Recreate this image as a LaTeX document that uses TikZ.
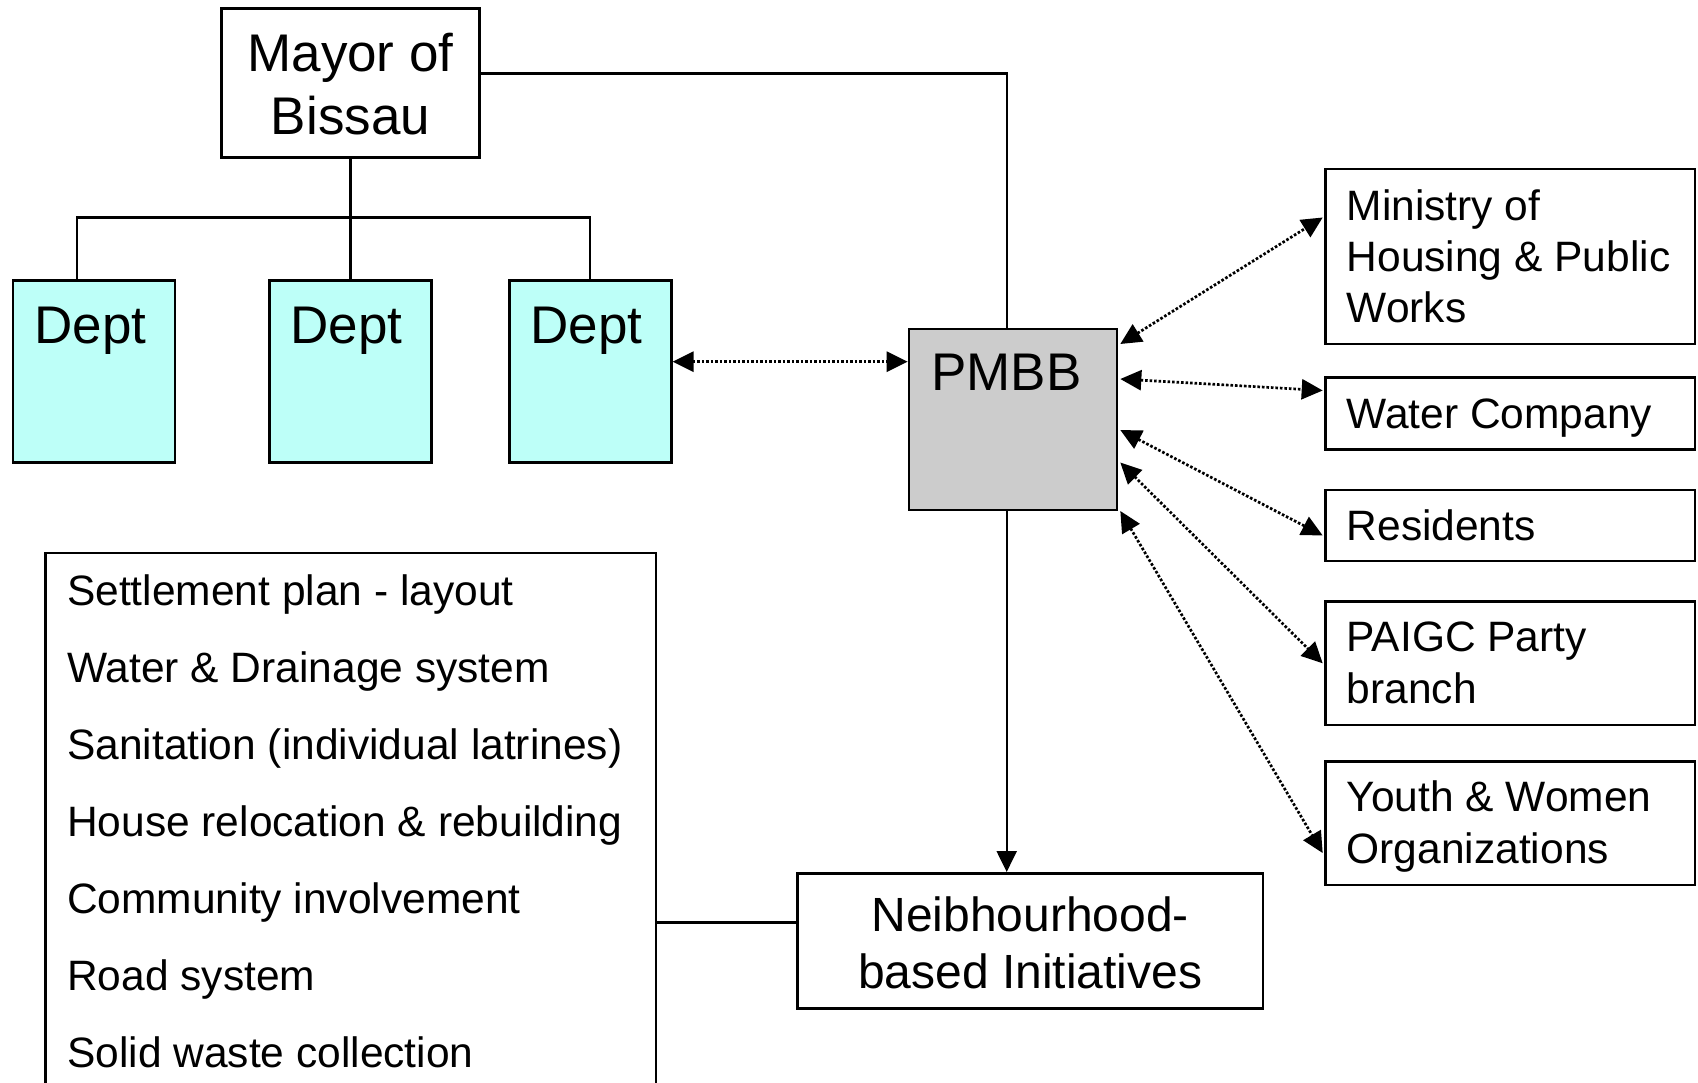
\documentclass[tikz,border=0pt]{standalone}
\usepackage{fontspec}
\setmainfont{Liberation Sans}
\usetikzlibrary{arrows.meta,calc}
\definecolor{deptcyan}{RGB}{189,255,248}
\definecolor{pmbbgray}{RGB}{204,204,204}

\begin{document}
\begin{tikzpicture}[x=1pt,y=-1pt,
  box/.style={draw=black, line width=2.6pt, inner sep=0pt, rectangle},
  link/.style={draw=black, line width=2.3pt},
  dotlink/.style={draw=black, line width=2.7pt, dash pattern=on 2.6pt off 1.9pt,
                  {Triangle[length=21pt,width=20pt]}-{Triangle[length=21pt,width=20pt]}},
  bigtxt/.style={font=\fontsize{53}{63}\selectfont, inner sep=0pt},
  midtxt/.style={font=\fontsize{42.5}{51}\selectfont, inner sep=0pt, anchor=base west},
  ngtxt/.style={font=\fontsize{48}{57}\selectfont, inner sep=0pt, anchor=base},
]
\clip (0,0) rectangle (1698,1083);
\fill[white] (0,0) rectangle (1698,1083);

% ---- boxes ----
\node[box, minimum width=258.5pt, minimum height=149pt] (mayor) at (350.5,83) {};
\node[box, fill=deptcyan, minimum width=162pt, minimum height=182pt] (dept1) at (94,371.6) {};
\node[box, fill=deptcyan, minimum width=162pt, minimum height=182pt] (dept2) at (350.5,371.6) {};
\node[box, fill=deptcyan, minimum width=162pt, minimum height=182pt] (dept3) at (590.25,371.6) {};
\node[box, fill=pmbbgray, minimum width=208pt, minimum height=181pt] (pmbb) at (1013,419.5) {};

\node[box, minimum width=369.5pt, minimum height=175pt] (min) at (1510.25,256.5) {};
\node[box, minimum width=369.5pt, minimum height=72pt] (water) at (1510.25,413.3) {};
\node[box, minimum width=369.5pt, minimum height=71pt] (res) at (1510.25,525.5) {};
\node[box, minimum width=369.5pt, minimum height=123.3pt] (paigc) at (1510.25,663.35) {};
\node[box, minimum width=369.5pt, minimum height=123.3pt] (youth) at (1510.25,823.35) {};

\node[box, minimum width=465.7pt, minimum height=135.2pt] (ngh) at (1030.15,940.9) {};
\node[box, minimum width=610.5pt, minimum height=547pt] (list) at (350.75,826.5) {};

% ---- texts ----
\node[bigtxt, anchor=base] (mayorA) at (350.5,71.7) {Mayor of};
\node[bigtxt, anchor=base] (mayorB) at (350.5,135) {Bissau};
\node[bigtxt, anchor=base west] (d1t) at (34.5,343.5) {Dept};
\node[bigtxt, anchor=base west] (d2t) at (290.5,343.5) {Dept};
\node[bigtxt, anchor=base west] (d3t) at (530.5,343.5) {Dept};
\node[bigtxt, anchor=base west] (pmbbt) at (931,391) {PMBB};

\node[midtxt] (minA) at (1346.5,221) {Ministry of};
\node[midtxt] (minB) at (1346.5,272) {Housing \& Public};
\node[midtxt] (minC) at (1346.5,322.5) {Works};
\node[midtxt] (watert) at (1346.5,428) {Water Company};
\node[midtxt] (rest) at (1346.5,540) {Residents};
\node[midtxt] (paigcA) at (1346.5,651.7) {PAIGC Party};
\node[midtxt] (paigcB) at (1346.5,703) {branch};
\node[midtxt] (youthA) at (1346.5,811.7) {Youth \& Women};
\node[midtxt] (youthB) at (1346.5,863) {Organizations};

\node[ngtxt] (nghA) at (1030.15,931.7) {Neibhourhood-};
\node[ngtxt] (nghB) at (1030.15,988.3) {based Initiatives};

\node[midtxt] (l1) at (67,605) {Settlement plan - layout};
\node[midtxt] (l2) at (67,682) {Water \& Drainage system};
\node[midtxt] (l3) at (67,759) {Sanitation (individual latrines)};
\node[midtxt] (l4) at (67,836) {House relocation \& rebuilding};
\node[midtxt] (l5) at (67,913) {Community involvement};
\node[midtxt] (l6) at (67,990) {Road system};
\node[midtxt] (l7) at (67,1067) {Solid waste collection};

% ---- hierarchy lines ----
\coordinate (jn) at (350.5,217.5);
\draw[link] (mayor.south) -- (dept2.north);
\draw[link] ([xshift=65pt]dept1.north west) |- (jn) -| (dept3.north);

\coordinate (pmT) at ([xshift=-6.3pt]pmbb.north);
\coordinate (pmB) at ([xshift=-6.3pt]pmbb.south);
\draw[link] ([yshift=9.5pt]mayor.east) -| (pmT);
\draw[link, -{Triangle[length=21pt,width=20pt]}] (pmB) -- (pmB |- ngh.north);

\coordinate (lnk) at ([yshift=18.3pt]ngh.west);
\draw[link] (lnk -| list.east) -- (lnk);

% ---- dotted two-way links ----
\coordinate (d3) at ([yshift=9.9pt]dept3.east);
\draw[dotlink] (d3) -- (d3 -| pmbb.west);
\draw[dotlink] ([xshift=2pt,yshift=75.5pt]pmbb.east) -- ([xshift=-1.5pt,yshift=39pt]min.west);
\draw[dotlink] ([xshift=2pt,yshift=40.5pt]pmbb.east) -- ([xshift=-1.5pt,yshift=22.8pt]water.west);
\draw[dotlink] ([xshift=2pt,yshift=-10.5pt]pmbb.east) -- ([xshift=-1.5pt,yshift=-10pt]res.west);
\draw[dotlink] ([xshift=2pt,yshift=-43pt]pmbb.east) -- ([xshift=-1.5pt]paigc.west);
\draw[dotlink] ([xshift=2pt,yshift=-91.5pt]pmbb.east) -- ([xshift=-1.5pt,yshift=-29.7pt]youth.west);
\end{tikzpicture}
\end{document}
